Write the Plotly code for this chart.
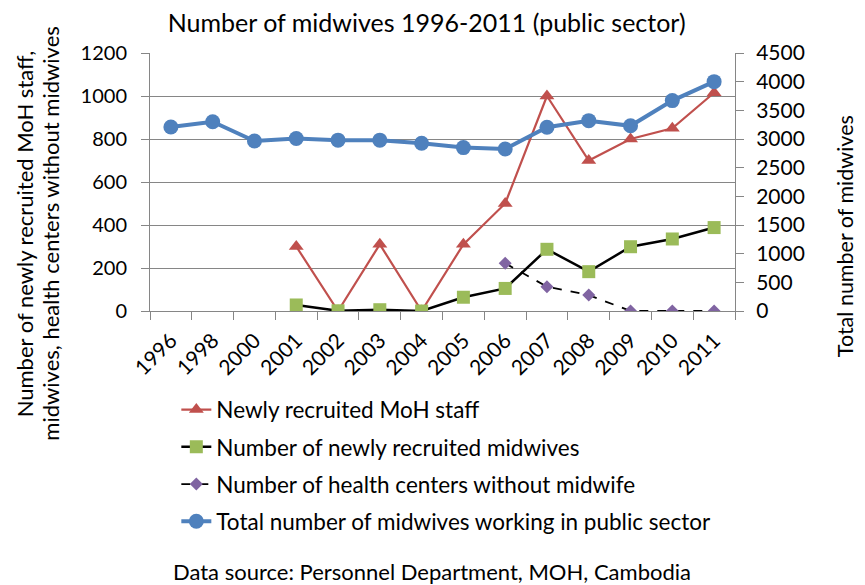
import plotly.graph_objects as go

years = ["1996", "1998", "2000", "2001", "2002", "2003", "2004", "2005",
         "2006", "2007", "2008", "2009", "2010", "2011"]
moh_staff = [None, None, None, 300, 0, 310, 0, 310, 500, 1000, 700, 800, 850, 1015]
new_midwives = [None, None, None, 28, 1, 6, 0, 64, 105, 287, 183, 299, 335, 388]
hc_without = [None, None, None, None, None, None, None, None, 222, 113, 74, 0, 0, 0]
total_midwives = [3210, 3300, 2965, 3010, 2980, 2980, 2925, 2850, 2825, 3205, 3320,
                  3230, 3670, 4000]

left_ticks = [0, 200, 400, 600, 800, 1000, 1200]
right_ticks = [0, 500, 1000, 1500, 2000, 2500, 3000, 3500, 4000, 4500]

FONT = "Lato"
fig = go.Figure()

fig.add_trace(go.Scatter(
    x=years, y=moh_staff, name="Newly recruited MoH staff", mode="lines+markers",
    line=dict(color="#C0504D", width=2.2),
    marker=dict(symbol="triangle-up", size=13, color="#C0504D"),
    legendgroup="a", connectgaps=False))
fig.add_trace(go.Scatter(
    x=years, y=new_midwives, name="Number of newly recruited midwives", mode="lines+markers",
    line=dict(color="#000000", width=2.5),
    marker=dict(symbol="square", size=13, color="#9BBB59"),
    legendgroup="b"))
fig.add_trace(go.Scatter(
    x=years, y=hc_without, name="Number of health centers without midwife", mode="lines+markers",
    line=dict(color="#000000", width=1.8, dash="dash"),
    marker=dict(symbol="diamond", size=10, color="#8064A2"),
    legendgroup="c"))
fig.add_trace(go.Scatter(
    x=years, y=total_midwives, name="Total number of midwives working in public sector",
    mode="lines+markers", yaxis="y2",
    line=dict(color="#4F81BD", width=4),
    marker=dict(symbol="circle", size=15, color="#4F81BD"),
    legendgroup="d"))

fig.update_layout(
    width=865, height=585,
    margin=dict(l=142, r=138, t=45, b=282),
    paper_bgcolor="white", plot_bgcolor="white",
    font=dict(family=FONT, size=21, color="#000000"),
    showlegend=True,
    title=dict(text="Number of midwives 1996-2011 (public sector)", x=0.484, xanchor="center",
               y=0.974, yanchor="middle", font=dict(size=25, family=FONT)),
    xaxis=dict(type="category", range=[-0.5, 13.5], tickangle=-45,
               showline=True, linecolor="#868686", linewidth=1,
               ticks="outside", ticklen=8, tickcolor="#868686",
               tickson="boundaries", showgrid=False, ticklabelstandoff=8,
               tickfont=dict(size=21)),
    yaxis=dict(range=[0, 1200], tickvals=left_ticks, showgrid=True, gridcolor="#868686",
               gridwidth=1, showline=True, linecolor="#868686", ticks="outside",
               ticklen=8, tickcolor="#868686", zeroline=False, ticklabelstandoff=10,
               tickfont=dict(size=20)),
    yaxis2=dict(range=[0, 4500], tickvals=right_ticks, overlaying="y", side="right",
                showgrid=False, showline=True, linecolor="#868686", ticks="outside",
                ticklen=8, tickcolor="#868686", zeroline=False, ticklabelstandoff=8,
                tickfont=dict(size=21)),
    legend=dict(x=0.045, y=-0.30, xanchor="left", yanchor="top", orientation="v",
                tracegroupgap=5, font=dict(size=22.5), bgcolor="rgba(0,0,0,0)",
                itemwidth=30),
    annotations=[
        dict(text="Data source: Personnel Department, MOH, Cambodia", xref="paper",
             yref="paper", x=0.482, y=-1.008, xanchor="center", yanchor="middle",
             showarrow=False, font=dict(size=22)),
        dict(text="Number of newly recruited MoH staff,", xref="paper", yref="paper",
             x=-0.215, y=0.298, xanchor="center", yanchor="middle", textangle=-90,
             showarrow=False, font=dict(size=22)),
        dict(text="midwives, health centers without midwives", xref="paper", yref="paper",
             x=-0.170, y=0.298, xanchor="center", yanchor="middle", textangle=-90,
             showarrow=False, font=dict(size=22)),
        dict(text="Total number of midwives", xref="paper", yref="paper",
             x=1.188, y=0.290, xanchor="center", yanchor="middle", textangle=-90,
             showarrow=False, font=dict(size=21.5)),
    ],
)

fig.write_html("out.html")
